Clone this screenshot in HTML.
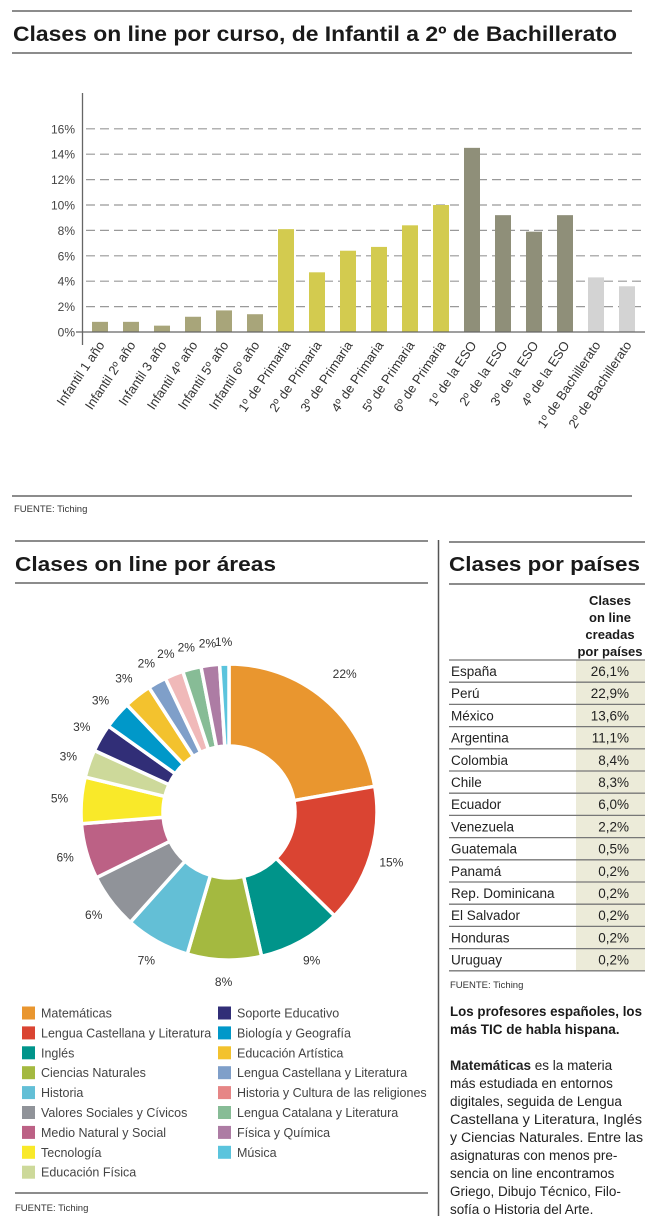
<!DOCTYPE html>
<html><head><meta charset="utf-8"><style>
html,body{margin:0;padding:0;background:#fff;}
svg{display:block;}
text{font-family:"Liberation Sans",sans-serif;}
</style></head><body>
<svg id="s" width="650" height="1222" xmlns="http://www.w3.org/2000/svg">
<line x1="12" y1="11" x2="632" y2="11" stroke="#666" stroke-width="1.5"/>
<text x="13" y="41" font-size="21" font-weight="bold" fill="#1a1a1a" textLength="604" lengthAdjust="spacingAndGlyphs">Clases on line por curso, de Infantil a 2º de Bachillerato</text>
<line x1="12" y1="53" x2="632" y2="53" stroke="#666" stroke-width="1.5"/>
<g id="bars"></g>
<line x1="12" y1="496" x2="632" y2="496" stroke="#666" stroke-width="1.5"/>
<text x="14" y="512" font-size="9.5" fill="#333">FUENTE: Tiching</text>

<line x1="15" y1="541" x2="428" y2="541" stroke="#666" stroke-width="1.5"/>
<text x="15" y="571" font-size="20" font-weight="bold" fill="#1a1a1a" textLength="261" lengthAdjust="spacingAndGlyphs">Clases on line por áreas</text>
<line x1="15" y1="583" x2="428" y2="583" stroke="#666" stroke-width="1.5"/>
<line x1="438.5" y1="540" x2="438.5" y2="1216" stroke="#555" stroke-width="1.5"/>
<g id="pie"></g>
<g id="legend" font-size="12.5" fill="#444"></g>
<line x1="15" y1="1193" x2="428" y2="1193" stroke="#666" stroke-width="1.5"/>
<text x="15" y="1211" font-size="9.5" fill="#333">FUENTE: Tiching</text>

<line x1="449" y1="542" x2="645" y2="542" stroke="#666" stroke-width="1.5"/>
<text x="449" y="571" font-size="20" font-weight="bold" fill="#1a1a1a" textLength="191" lengthAdjust="spacingAndGlyphs">Clases por países</text>
<line x1="449" y1="584" x2="645" y2="584" stroke="#666" stroke-width="1.5"/>
<g font-size="13" font-weight="bold" fill="#1a1a1a" text-anchor="middle">
<text x="610" y="605">Clases</text>
<text x="610" y="622">on line</text>
<text x="610" y="639">creadas</text>
<text x="610" y="656">por países</text>
</g>
<g id="table"></g>
<text x="450" y="988" font-size="9.5" fill="#333">FUENTE: Tiching</text>
<g font-size="13.5" fill="#1a1a1a">
<text x="450" y="1016" font-weight="bold" textLength="192" lengthAdjust="spacingAndGlyphs">Los profesores españoles, los</text>
<text x="450" y="1034" font-weight="bold">más TIC de habla hispana.</text>
</g>
<g font-size="13.5" fill="#222">
<text x="450" y="1070"><tspan font-weight="bold">Matemáticas</tspan> es la materia</text>
<text x="450" y="1088">más estudiada en entornos</text>
<text x="450" y="1106">digitales, seguida de Lengua</text>
<text x="450" y="1124" textLength="192" lengthAdjust="spacingAndGlyphs">Castellana y Literatura, Inglés</text>
<text x="450" y="1142" textLength="193" lengthAdjust="spacingAndGlyphs">y Ciencias Naturales. Entre las</text>
<text x="450" y="1160">asignaturas con menos pre-</text>
<text x="450" y="1178">sencia on line encontramos</text>
<text x="450" y="1196">Griego, Dibujo Técnico, Filo-</text>
<text x="450" y="1214">sofía o Historia del Arte.</text>
</g>
</svg>
<script>
var NS="http://www.w3.org/2000/svg";
function el(p,t,a,txt){var e=document.createElementNS(NS,t);for(var k in a)e.setAttribute(k,a[k]);if(txt!==undefined)e.textContent=txt;p.appendChild(e);return e;}
var g=document.getElementById('bars');
var y0=332,u=12.7;
for(var i=0;i<=8;i++){var y=y0-i*2*u;
 if(i>0) el(g,'line',{x1:86,y1:y,x2:643,y2:y,stroke:'#999','stroke-width':1.2,'stroke-dasharray':'9,5'});
 el(g,'text',{x:75,y:y+4.5,'font-size':12,fill:'#444','text-anchor':'end'},(i*2)+'%');}
var labels=["Infantil 1 año","Infantil 2º año","Infantil 3 año","Infantil 4º año","Infantil 5º año","Infantil 6º año","1º de Primaria","2º de Primaria","3º de Primaria","4º de Primaria","5º de Primaria","6º de Primaria","1º de la ESO","2º de la ESO","3º de la ESO","4º de la ESO","1º de Bachillerato","2º de Bachillerato"];
var vals=[0.8,0.8,0.5,1.2,1.7,1.4,8.1,4.7,6.4,6.7,8.4,10.0,14.5,9.2,7.9,9.2,4.3,3.6];
for(var i=0;i<18;i++){var cx=100+i*31;
 var c=i<6?'#a8a57a':i<12?'#d3cb4f':i<16?'#8f8f79':'#d3d3d3';
 el(g,'rect',{x:cx-8,y:y0-vals[i]*u,width:16,height:vals[i]*u,fill:c});
 el(g,'text',{x:0,y:0,'font-size':13,fill:'#333','text-anchor':'end',transform:'translate('+(cx+5)+',345) rotate(-56)'},labels[i]);}
el(g,'line',{x1:82.5,y1:93,x2:82.5,y2:345,stroke:'#666','stroke-width':1.3});
el(g,'line',{x1:76,y1:332,x2:645,y2:332,stroke:'#666','stroke-width':1.3});
var p=document.getElementById('pie');
var pv=[22,15,9,8,7,6,6,5,3,3,3,3,2,2,2,2,1];
var pc=['#e9962f','#da4432','#00948a','#a4b940','#63bfd6','#909399','#bc6185','#f9e929','#cdd99a','#312e77','#0098c9','#f3c22e','#7f9fc9','#f0b9b9','#87bc96','#ad7ca4','#5bc4dd'];
var cx=229,cy=812,R=148,r=66,tot=99,a=0;
function pt(rad,ang){return [cx+rad*Math.sin(ang),cy-rad*Math.cos(ang)];}
for(var i=0;i<pv.length;i++){var a1=a/tot*2*Math.PI,a2=(a+pv[i])/tot*2*Math.PI;a+=pv[i];
 var P1=pt(R,a1),P2=pt(R,a2),P3=pt(r,a2),P4=pt(r,a1),lg=(a2-a1)>Math.PI?1:0;
 el(p,'path',{d:'M'+P1+' A'+R+','+R+' 0 '+lg+' 1 '+P2+' L'+P3+' A'+r+','+r+' 0 '+lg+' 0 '+P4+'Z',fill:pc[i],stroke:'#fff','stroke-width':3.5,'stroke-linejoin':'miter'});
 var m=(a1+a2)/2,L=pt(i<1?180:170,m);
 el(p,'text',{x:L[0],y:L[1]+4,'font-size':12,fill:'#333','text-anchor':'middle'},pv[i]+'%');}
var lg=document.getElementById('legend');
var names=["Matemáticas","Lengua Castellana y Literatura","Inglés","Ciencias Naturales","Historia","Valores Sociales y Cívicos","Medio Natural y Social","Tecnología","Educación Física","Soporte Educativo","Biología y Geografía","Educación Artística","Lengua Castellana y Literatura","Historia y Cultura de las religiones","Lengua Catalana y Literatura","Física y Química","Música"];
var lc=pc.slice();lc[13]='#e68686';
for(var i=0;i<17;i++){var col=i<9?0:1,row=i<9?i:i-9;var x=col?218:22,y=1013+row*19.9;
 el(lg,'rect',{x:x,y:y-6.5,width:13,height:13,fill:lc[i]});
 el(lg,'text',{x:x+19,y:y+4.5},names[i]);}
var t=document.getElementById('table');
var rows=[["España","26,1%"],["Perú","22,9%"],["México","13,6%"],["Argentina","11,1%"],["Colombia","8,4%"],["Chile","8,3%"],["Ecuador","6,0%"],["Venezuela","2,2%"],["Guatemala","0,5%"],["Panamá","0,2%"],["Rep. Dominicana","0,2%"],["El Salvador","0,2%"],["Honduras","0,2%"],["Uruguay","0,2%"]];
el(t,'rect',{x:576,y:660,width:69,height:14*22.2,fill:'#ecebd9'});
for(var i=0;i<14;i++){var y=660+i*22.2;
 el(t,'line',{x1:449,y1:y,x2:645,y2:y,stroke:'#777','stroke-width':1.3});
 el(t,'text',{x:451,y:y+16,'font-size':13.5,fill:'#222'},rows[i][0]);
 el(t,'text',{x:629,y:y+16,'font-size':13.5,fill:'#222','text-anchor':'end'},rows[i][1]);}
el(t,'line',{x1:449,y1:660+14*22.2,x2:645,y2:660+14*22.2,stroke:'#777','stroke-width':1.3});
</script>
</body></html>
